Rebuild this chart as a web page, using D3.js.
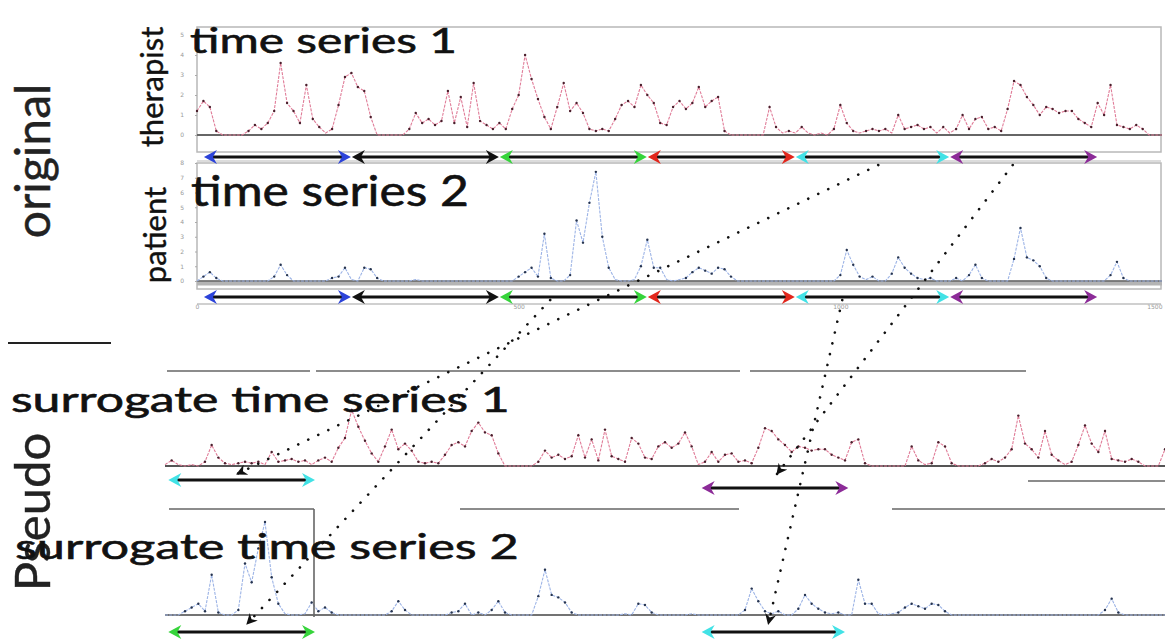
<!DOCTYPE html>
<html><head><meta charset="utf-8">
<script src="https://cdn.jsdelivr.net/npm/d3@7"></script>
<style>body{margin:0;background:#fff;overflow:hidden}</style>
</head><body>
<svg id="chart" width="1165" height="644"></svg>
<script>
// ---------------- DATA ----------------
const timeStep = 10; // time units between samples
const therapist = [
 1.2,1.7,1.4,0.2,0,0,0,0,0.2,0.5,
 0.3,0.6,1.2,3.6,1.6,1.2,0.6,2.5,0.8,0.4,
 0.1,0.3,1.5,2.9,3.1,2.4,2.2,0.9,0,0,
 0,0,0,0.3,1.1,0.6,0.8,0.5,0.7,2.2,
 0.6,1.9,0.4,2.6,0.7,0.5,0.3,0.6,0.3,1.3,
 2.0,4.0,2.8,1.8,0.9,0.3,1.4,2.6,1.2,1.6,
 1.1,0.3,0.2,0.3,0.2,0.8,1.5,1.7,1.4,2.5,
 2.0,1.6,0.6,0.5,1.4,1.7,1.3,1.6,2.4,1.4,
 1.7,1.9,0.2,0,0,0,0,0,0,1.4,
 0.4,0.1,0.2,0.1,0.4,0.1,0,0.1,0,0.3,
 1.5,0.6,0.2,0.1,0.2,0.3,0.2,0.3,0.1,1.0,
 0.3,0.4,0.5,0.3,0.4,0.1,0.4,0.1,0.3,1.0,
 0.3,0.8,0.9,0.3,0.4,0.2,1.3,2.7,2.5,1.9,
 1.5,1.0,1.4,1.3,1.1,1.2,1.2,0.8,0.6,0.4,
 1.6,1.0,2.5,0.5,0.4,0.3,0.5,0.3,0,0,0
];
const patient = [
 0,0.3,0.6,0.2,0,0,0,0,0,0,
 0,0,0.3,1.1,0.4,0,0,0,0,0,
 0,0.2,0.3,0.9,0.1,0,0.9,0.8,0.2,0,
 0,0,0,0,0.1,0,0,0,0,0,
 0,0,0,0,0,0,0,0,0,0,
 0.3,0.6,0.9,0.3,3.2,0.2,0,0,0.4,4.1,
 2.6,5.3,7.4,3.0,0.9,0.1,0,0,0.1,1.0,
 2.8,0.9,0.9,0.1,0,0.1,0.2,0.6,0.9,0.7,
 0.5,0.9,0.8,0.3,0,0,0,0,0,0,
 0,0,0,0,0,0,0,0,0,0,
 0.4,2.1,1.1,0.3,0.1,0.3,0,0,0.5,1.6,
 0.9,0.5,0.2,0.1,0.2,0,0,0,0.2,0,
 0.4,1.1,0.2,0,0,0,0,1.5,3.6,1.6,
 1.4,1.0,0.2,0,0,0,0,0,0,0,
 0,0,0.4,1.3,0.2,0,0,0,0,0,0
];
const segmentNames  = ["blue","black","green","red","cyan","purple"];
const segmentBounds = [10,240,470,700,930,1170,1400];
const segmentColors = {blue:"#2c43d9",black:"#111111",green:"#36d43b",red:"#e2261c",cyan:"#42e2e6",purple:"#8c2b98"};
const therapistTicks = [0,1,2,3,4,5];
const patientTicks = [0,1,2,3,4,5,6,7,8];
const timeTicks = [0,500,1000,1500];
// surrogate series = original segments re-ordered ([start,end) in time units)
const surrogate1Pieces = [[930,1170],[470,700],[240,470],[700,800],[1170,1400],[800,930],[10,240],[1400,1510],[0,10]];
const surrogate2Pieces = [[470,700],[10,240],[1170,1400],[240,350],[930,1170],[700,930],[350,470],[1400,1510],[0,10]];
const surrogate1Arrows = [{color:"cyan",start:5,end:225},{color:"purple",start:805,end:1025}];
const surrogate2Arrows = [{color:"green",start:5,end:225},{color:"cyan",start:805,end:1020}];
// links: time in original -> time in surrogate
const links = [
 {src:"therapist", t:1059, dst:"s1", t2:108},
 {src:"therapist", t:1268, dst:"s1", t2:918},
 {src:"patient",   t:549,  dst:"s2", t2:123},
 {src:"patient",   t:1003, dst:"s2", t2:905}
];

// ---------------- LAYOUT ----------------
const svg = d3.select("#chart");
const FONT = "Lato, 'Open Sans', sans-serif";
const xOrig = d3.scaleLinear([0,1500],[197,1162]);
const xSur  = d3.scaleLinear([0,1500],[165,1165]);
const yTher = d3.scaleLinear([0,5],[135,35]);
const yPat  = d3.scaleLinear([0,8],[281,163]);
const yS1   = d3.scaleLinear([0,4],[466,410]);
const yS2   = d3.scaleLinear([0,7.4],[615,522]);

const defs = svg.append("defs");
defs.append("marker").attr("id","head").attr("viewBox","0 0 10 10")
  .attr("refX",9).attr("refY",5).attr("markerWidth",12).attr("markerHeight",11)
  .attr("markerUnits","userSpaceOnUse").attr("orient","auto")
  .append("path").attr("d","M0,0 L10,5 L0,10 L3,5 Z").attr("fill","#111");

// panel frames
const frames = svg.append("g");
frames.append("rect").attr("x",197).attr("y",27).attr("width",964).attr("height",125)
  .attr("fill","none").attr("stroke","#b8b8b8").attr("stroke-width",1.5);
frames.append("rect").attr("x",197).attr("y",163).attr("width",964).attr("height",126)
  .attr("fill","none").attr("stroke","#b8b8b8").attr("stroke-width",1.5);
frames.append("line").attr("x1",197).attr("x2",1161).attr("y1",161).attr("y2",161).attr("stroke","#d0d0d0").attr("stroke-width",1.5);
frames.append("line").attr("x1",197).attr("x2",1161).attr("y1",304).attr("y2",304).attr("stroke","#d0d0d0").attr("stroke-width",2);

// axes
function leftAxis(scale, ticks){
  const g = svg.append("g").attr("transform","translate(197,0)")
    .call(d3.axisLeft(scale).tickValues(ticks).tickSize(2).tickFormat(d3.format("d")));
  g.select(".domain").remove();
  g.selectAll("line").attr("stroke","#aaa");
  g.selectAll("text").attr("font-size",6).attr("fill","#999").attr("font-family","DejaVu Sans").attr("dx",-8);
}
leftAxis(yTher, therapistTicks);
leftAxis(yPat, patientTicks);
const xa = svg.append("g").attr("transform","translate(0,302)")
  .call(d3.axisBottom(xOrig).tickValues(timeTicks).tickSize(0).tickFormat(d3.format("d")));
xa.select(".domain").remove();
xa.selectAll("text").attr("font-size",6).attr("fill","#999").attr("font-family","DejaVu Sans")
  .attr("text-anchor",(d)=> d===1500 ? "end" : "middle");

// series
function seriesPoints(values){ return values.map((v,i)=>({t:i*timeStep, v})); }
function surrogatePoints(values, pieces){
  const pts=[]; let k=0;
  pieces.forEach(([a,b])=>{ for(let t=a;t<b;t+=timeStep){ pts.push({t:k*timeStep, v:values[t/timeStep]}); k++; } });
  return pts;
}
function drawSeries(pts, x, y, lineColor, dotColor, baseStyle){
  const g = svg.append("g");
  if(baseStyle.band) g.append("line").attr("x1",x(0)).attr("x2",x(1500)).attr("y1",y(0)+2).attr("y2",y(0)+2)
      .attr("stroke","#b4b4b4").attr("stroke-width",baseStyle.band);
  g.append("line").attr("x1",x(0)).attr("x2",x(1500)).attr("y1",y(0)).attr("y2",y(0))
    .attr("stroke",baseStyle.color).attr("stroke-width",baseStyle.width);
  g.append("path").datum(pts).attr("fill","none").attr("stroke",lineColor).attr("stroke-width",1.1)
    .attr("stroke-dasharray","3,1.2")
    .attr("d", d3.line().x(d=>x(d.t)).y(d=>y(d.v)));
  g.selectAll("circle").data(pts.filter(d=>d.v>0.15)).join("circle")
    .attr("cx",d=>x(d.t)).attr("cy",d=>y(d.v)).attr("r",1.2).attr("fill",dotColor);
}
drawSeries(seriesPoints(therapist), xOrig, yTher, "#e07c98", "#4a1f2c", {color:"#666",width:2});
drawSeries(seriesPoints(patient), xOrig, yPat, "#9db4e6", "#26344f", {color:"#666",width:1.3,band:5});
drawSeries(surrogatePoints(therapist, surrogate1Pieces), xSur, yS1, "#e07c98", "#4a1f2c", {color:"#555",width:1.8});
drawSeries(surrogatePoints(patient, surrogate2Pieces), xSur, yS2, "#9db4e6", "#26344f", {color:"#444",width:1.5});

// double arrows
function dblArrow(x1, x2, y, color){
  const g = svg.append("g");
  g.append("line").attr("x1",x1+8).attr("x2",x2-8).attr("y1",y).attr("y2",y)
    .attr("stroke","#111").attr("stroke-width",3);
  g.append("path").attr("d",`M${x1},${y} L${x1+13},${y-7} L${x1+9},${y} L${x1+13},${y+7} Z`).attr("fill",color);
  g.append("path").attr("d",`M${x2},${y} L${x2-13},${y-7} L${x2-9},${y} L${x2-13},${y+7} Z`).attr("fill",color);
}
[157,297].forEach(yRow=>{
  segmentNames.forEach((n,i)=>{
    dblArrow(xOrig(segmentBounds[i])+0.5, xOrig(segmentBounds[i+1])-0.5, yRow, segmentColors[n]);
  });
});
const s1Rows = {cyan:480, purple:488};
surrogate1Arrows.forEach(a=>dblArrow(xSur(a.start), xSur(a.end), s1Rows[a.color], segmentColors[a.color]));
surrogate2Arrows.forEach(a=>dblArrow(xSur(a.start), xSur(a.end), 632, segmentColors[a.color]));

// crop-border decorations
const deco = svg.append("g").attr("stroke","#666").attr("stroke-width",1.6);
[[167,310,371],[316,740,371],[750,1026,371],[1028,1165,481],[169,314,509],[460,739,509],[892,1165,509]]
  .forEach(([a,b,y])=>deco.append("line").attr("x1",a).attr("x2",b).attr("y1",y).attr("y2",y));
deco.append("line").attr("x1",314).attr("x2",314).attr("y1",509).attr("y2",617);
svg.append("line").attr("x1",8).attr("x2",111).attr("y1",343).attr("y2",343).attr("stroke","#222").attr("stroke-width",2);

// texts
function stretchText(str, x, y, size, width){
  const t = svg.append("text").text(str).attr("font-family",FONT).attr("font-size",size).attr("fill","#111")
    .attr("stroke","#111").attr("stroke-width",0.6);
  const w = t.node().getComputedTextLength();
  t.attr("transform",`translate(${x},${y}) scale(${width/w},1)`);
}
function vText(str, x, y, size, color){
  svg.append("text").text(str).attr("font-family",FONT).attr("font-size",size).attr("fill",color)
    .attr("stroke",color).attr("stroke-width",0.4)
    .attr("text-anchor","middle").attr("transform",`translate(${x},${y}) rotate(-90)`);
}
vText("original", 50, 161, 48, "#222");
vText("therapist", 163, 87, 31, "#111");
vText("patient", 166, 235, 31, "#111");
vText("Pseudo", 50, 512, 49, "#222");
stretchText("time series 1", 190, 53, 35, 267);
stretchText("time series 2", 191, 206, 43, 278);
stretchText("surrogate time series 1", 11, 412, 34, 499);
stretchText("surrogate time series 2", 15, 559, 35, 504);

// dotted links
const rowY = {therapist:165, patient:300, s1:474, s2:624};
const xOf = {therapist:xOrig, patient:xOrig, s1:xSur, s2:xSur};
links.forEach(l=>{
  svg.append("line").attr("x1",xOf[l.src](l.t)).attr("y1",rowY[l.src])
    .attr("x2",xOf[l.dst](l.t2)).attr("y2",rowY[l.dst])
    .attr("stroke","#111").attr("stroke-width",2.6).attr("stroke-linecap","round")
    .attr("stroke-dasharray","0.1,11").attr("marker-end","url(#head)");
});
</script>
</body></html>
